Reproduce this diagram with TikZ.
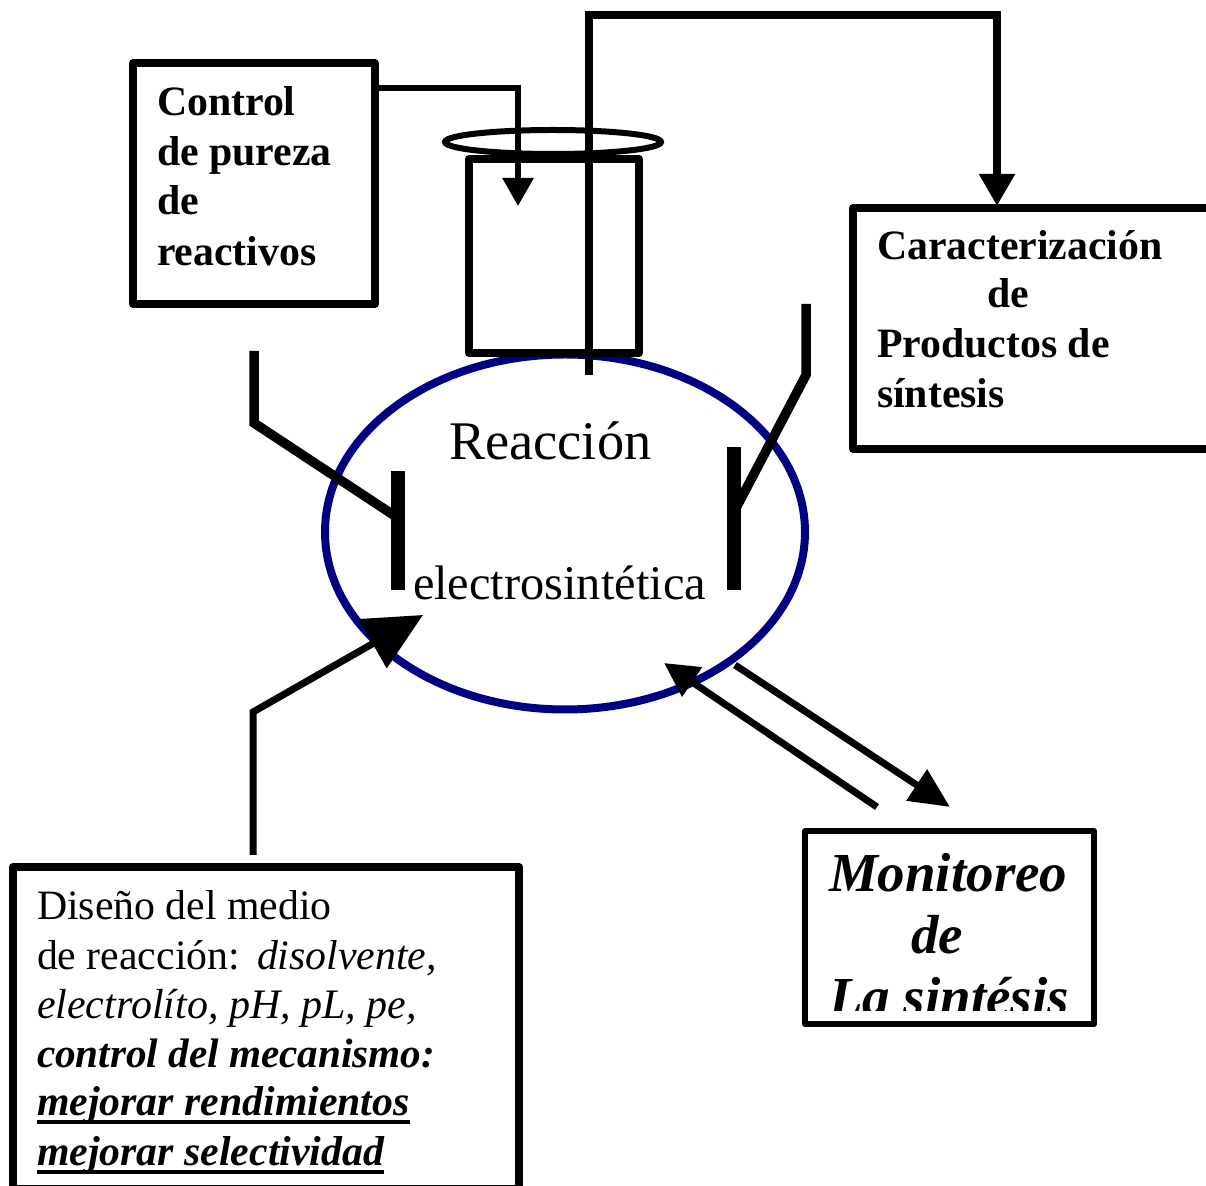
\documentclass[tikz,border=0pt]{standalone}
\usepackage{fontspec}
\setmainfont{Liberation Serif}
\usepackage{xcolor}
\usetikzlibrary{shapes.geometric, arrows.meta, positioning, calc}
\definecolor{azulreaccion}{HTML}{000080}
\newcommand{\subrayar}[1]{\leavevmode\setbox0\hbox{#1}\rlap{\rule[-3.9pt]{\wd0}{2pt}}\box0}
\tikzset{
	caja/.style={draw=black, line width=3.75pt, line join=round, inner sep=0pt, outer sep=0pt},
	etiqueta/.style={anchor=base west, inner sep=0pt, outer sep=0pt, font=\fontsize{20.9}{25}\selectfont},
	negrita/.style={etiqueta, font=\fontsize{20.9}{25}\bfseries\selectfont},
	cursiva/.style={etiqueta, font=\fontsize{20.9}{25}\bfseries\itshape\selectfont},
	grande/.style={anchor=base west, inner sep=0pt, outer sep=0pt, font=\fontsize{27.5}{32}\bfseries\itshape\selectfont},
	trazo/.style={draw=black, line width=3pt},
	grueso/.style={draw=black, line width=4.75pt},
	medio/.style={draw=black, line width=3.5pt},
	placa/.style={draw=black, line width=7pt},
	punta/.style={-{Triangle[length=14pt,width=15pt]}}
}
\begin{document}
\begin{tikzpicture}[x=0.5pt,y=-0.5pt]
		\useasboundingbox (0,0) rectangle (1206,1186);

		% Reactor
		\node[ellipse, draw=azulreaccion, line width=4pt, minimum width=240pt, minimum height=177.5pt, inner sep=0pt] (reaccion) at (565,532) {};
		\node[caja, line width=4pt, minimum width=85pt, minimum height=97pt] (vaso) at (554,256) {};
		\node[ellipse, draw=black, line width=3pt, minimum width=108pt, minimum height=12pt, inner sep=0pt] (tapa) at (553,142) {};

		% Boxes
		\node[caja, minimum width=121pt, minimum height=120.5pt] (control) at (254,183.5) {};
		\node[caja, minimum width=190pt, minimum height=120.5pt] (productos) at (1043,328.5) {};
		\node[caja, line width=3pt, minimum width=144.5pt, minimum height=96.5pt] (monitoreo) at (949.5,927.5) {};
		\node[caja, line width=4pt, minimum width=253pt, minimum height=161pt] (medio) at (266,1028) {};

		% Free ends
		\coordinate (entrada) at (375,88);
		\coordinate (codo1) at (518,88);
		\coordinate (fin1) at (518,206);
		\coordinate (sonda) at (589,375);
		\coordinate (codo2) at (589,15);
		\coordinate (codo3) at (997,15);
		\coordinate (fin2) at (997,206);
		\coordinate (izq1) at (254,351);
		\coordinate (izq2) at (254,423);
		\coordinate (izq3) at (398,518);
		\coordinate (der1) at (806,304);
		\coordinate (der2) at (806,375);
		\coordinate (der3) at (735,510);
		\coordinate (placaizq1) at (398,471);
		\coordinate (placaizq2) at (398,590);
		\coordinate (placader1) at (734,447);
		\coordinate (placader2) at (734,590);
		\coordinate (medio1) at (253,855);
		\coordinate (medio2) at (253,712);
		\coordinate (medio3) at (423,615);
		\coordinate (sale1) at (735,665);
		\coordinate (sale2) at (950,807);
		\coordinate (vuelve1) at (877,807);
		\coordinate (vuelve2) at (664,663);

		% Connectors
		\draw[trazo, punta] (entrada) -- (codo1) -- (fin1);
		\draw[grueso, line width=4pt, -{Triangle[length=16pt,width=17pt]}] (sonda) -- (codo2) -- (codo3) -- (fin2);
		\draw[grueso] (izq1) -- (izq2) -- (izq3);
		\draw[grueso] (der1) -- (der2) -- (der3);
		\draw[placa] (placaizq1) -- (placaizq2);
		\draw[placa] (placader1) -- (placader2);
		\draw[medio, -{Triangle[length=29pt,width=27.5pt]}] (medio1) -- (medio2) -- (medio3);
		\draw[medio, -{Triangle[length=20pt,width=18pt]}] (sale1) -- (sale2);
		\draw[medio, -{Triangle[length=17pt,width=17pt]}] (vuelve1) -- (vuelve2);

		% Reactor text
		\node[etiqueta, font=\fontsize{27.2}{32}\selectfont] (t1) at (449,460) {Reacción};
		\node[etiqueta, font=\fontsize{24.2}{30}\selectfont] (t2) at (413,600) {electrosintética};

		% Control text
		\node[negrita] (c1) at (157,116) {Control};
		\node[negrita] (c2) at (157,166) {de pureza};
		\node[negrita] (c3) at (157,215) {de};
		\node[negrita] (c4) at (157,266) {reactivos};

		% Products text
		\node[negrita] (p1) at (877,260) {Caracterización};
		\node[negrita] (p2) at (987,308) {de};
		\node[negrita] (p3) at (877,358) {Productos de};
		\node[negrita] (p4) at (877,408) {síntesis};

		% Monitoring text, cut off as printed
		\begin{scope}
			\clip (807,835) rectangle (1092,1011);
			\node[grande] (m1) at (829,892) {Monitoreo};
			\node[grande] (m2) at (911,954) {de};
			\node[grande] (m3) at (829,1016) {La sintésis};
		\end{scope}

		% Medium text
		\node[etiqueta] (d1) at (37,920) {Diseño del medio};
		\node[etiqueta] (d2) at (37,970) {de reacción:\hspace{8.5pt}\textit{disolvente,}};
		\node[etiqueta, font=\fontsize{21}{25}\selectfont] (d3) at (37,1019) {\textit{electrolíto, pH, pL, pe,}};
		\node[cursiva, font=\fontsize{20.6}{25}\bfseries\itshape\selectfont] (d4) at (37,1068) {control del mecanismo:};
		\node[cursiva] (d5) at (37,1116) {\subrayar{mejorar rendimientos}};
		\node[cursiva] (d6) at (37,1166) {\subrayar{mejorar selectividad}};
	\end{tikzpicture}
\end{document}
